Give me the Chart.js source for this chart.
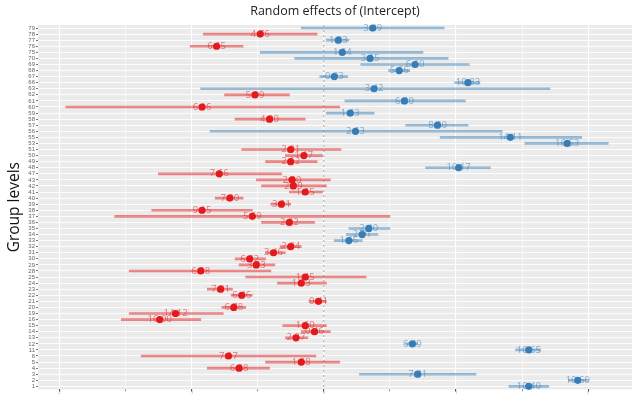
<!DOCTYPE html>
<html>
<head>
<meta charset="utf-8">
<script src="https://cdn.jsdelivr.net/npm/chart.js@4"></script>
<style>
  html, body { margin: 0; padding: 0; background: #fff; }
  #wrap { width: 636px; height: 394px; }
</style>
</head>
<body>
<div id="wrap"><canvas id="forest"></canvas></div>
<script>
// group levels, top to bottom
const groups = ['79','78','77','76','75','70','69','68','67','66','63','62','61','60','59','58','57',
  '56','55','53','51','50','49','48','47','43','42','41','40','39','38','37','36','35','34','33','32','31','30',
  '29','28','25','24','23','22','21','20','19','16','15','14','13','12','11','6','5','4','3','2','1'];

const estimates = [0.37,-0.48,0.11,-0.81,0.14,0.35,0.69,0.57,0.08,1.09,0.38,-0.52,0.61,-0.92,0.20,-0.41,0.86,
  0.24,1.41,1.84,-0.25,-0.15,-0.25,1.02,-0.79,-0.24,-0.23,-0.14,-0.71,-0.32,-0.92,-0.54,-0.26,0.34,0.29,0.19,-0.25,-0.38,-0.56,
  -0.51,-0.93,-0.14,-0.17,-0.78,-0.62,-0.04,-0.68,-1.12,-1.24,-0.14,-0.07,-0.21,0.67,1.55,-0.72,-0.17,-0.64,0.71,1.92,1.55];

const lower = [-0.17,-0.91,0.02,-1.01,-0.48,-0.22,0.28,0.49,-0.03,0.99,-0.93,-0.75,0.16,-1.95,0.02,-0.67,0.62,
  -0.86,0.88,1.52,-0.62,-0.29,-0.44,0.77,-1.25,-0.51,-0.47,-0.26,-0.82,-0.40,-1.30,-1.58,-0.47,0.19,0.17,0.08,-0.33,-0.44,-0.67,
  -0.64,-1.47,-0.59,-0.35,-0.88,-0.70,-0.11,-0.77,-1.47,-1.53,-0.31,-0.17,-0.29,0.62,1.45,-1.38,-0.44,-0.88,0.27,1.85,1.40];

const upper = [0.91,-0.05,0.19,-0.61,0.75,0.94,1.10,0.65,0.18,1.18,1.71,-0.26,1.07,0.12,0.38,-0.14,1.09,
  1.35,1.95,2.15,0.13,-0.01,-0.05,1.26,-0.32,0.05,0.02,-0.01,-0.61,-0.25,-0.54,0.50,-0.07,0.50,0.41,0.29,-0.17,-0.29,-0.44,
  -0.37,-0.40,0.32,0.02,-0.69,-0.54,0.02,-0.59,-0.76,-0.93,0.02,0.05,-0.12,0.71,1.64,-0.06,0.12,-0.41,1.15,2.00,1.70];

const valueLabels = ['3.49','4.76','1.83','6.65','1.64','3.65','6.60','5.66','0.83','10.83','3.42','5.09','6.40','6.16','1.63','4.00','8.60',
  '2.63','14.11','16.53','2.01','1.17','2.62','10.17','7.66','2.00','2.09','1.65','7.00','3.11','9.15','5.69','2.62','2.40','2.01','1.66','2.04','3.46','6.62',
  '3.93','6.08','1.45','1.63','7.81','6.46','0.41','6.78','14.12','16.00','1.60','0.46','2.87','6.49','10.65','7.17','1.58','6.88','7.41','10.60','10.40'];

const xTicks = [-2, -1.5, -1, -0.5, 0, 0.5, 1, 1.5, 2];

const RED = '#e41a1c', BLUE = '#377eb8';
const isPos = estimates.map(v => v > 0);

// grey panel behind the plot, dashed zero line
const panelPlugin = {
  id: 'panel',
  beforeDraw(chart) {
    const { ctx, chartArea: a } = chart;
    ctx.save();
    ctx.fillStyle = '#ebebeb';
    ctx.fillRect(a.left, a.top, a.right - a.left, a.bottom - a.top);
    ctx.restore();
  },
  beforeDatasetsDraw(chart) {
    const { ctx, chartArea: a, scales } = chart;
    const x0 = scales.x.getPixelForValue(0);
    ctx.save();
    ctx.strokeStyle = '#b3b3b3';
    ctx.lineWidth = 1.2;
    ctx.setLineDash([2, 3]);
    ctx.beginPath();
    ctx.moveTo(x0, a.top);
    ctx.lineTo(x0, a.bottom);
    ctx.stroke();
    ctx.restore();
  }
};

// value text written over each point
const labelPlugin = {
  id: 'valueText',
  afterDatasetsDraw(chart) {
    const meta = chart.getDatasetMeta(1);
    const ctx = chart.ctx;
    ctx.save();
    ctx.font = '9.5px "Open Sans"';
    ctx.textAlign = 'center';
    ctx.textBaseline = 'middle';
    meta.data.forEach((pt, i) => {
      ctx.fillStyle = isPos[i] ? 'rgba(55,126,184,0.6)' : 'rgba(228,26,28,0.6)';
      ctx.fillText(valueLabels[i], pt.x, pt.y);
    });
    ctx.restore();
  }
};

new Chart(document.getElementById('forest'), {
  data: {
    labels: groups,
    datasets: [
      {
        type: 'bar',
        data: lower.map((lo, i) => [lo, upper[i]]),
        backgroundColor: isPos.map(p => p ? 'rgba(55,126,184,0.5)' : 'rgba(228,26,28,0.5)'),
        barThickness: 2,
        borderSkipped: false
      },
      {
        type: 'line',
        data: estimates,
        showLine: false,
        pointRadius: 3.6,
        pointBorderWidth: 0,
        pointBackgroundColor: isPos.map(p => p ? BLUE : RED)
      }
    ]
  },
  options: {
    indexAxis: 'y',
    responsive: true,
    maintainAspectRatio: false,
    animation: false,
    layout: { padding: { top: 0, right: 0, bottom: 0, left: 0 } },
    plugins: {
      legend: { display: false },
      tooltip: { enabled: false },
      title: {
        display: true,
        text: 'Random effects of (Intercept)',
        fullSize: false,
        color: '#222',
        font: { family: 'Open Sans', size: 12.5, weight: 'normal' },
        padding: { top: 4, bottom: 6 }
      }
    },
    scales: {
      x: {
        type: 'linear',
        min: -2.16,
        max: 2.33,
        afterBuildTicks: s => { s.ticks = xTicks.map(v => ({ value: v })); },
        afterFit: s => { s.height = 4; },
        grid: {
          color: '#ffffff',
          lineWidth: c => Number.isInteger(c.tick.value) ? 1.1 : 0.6,
          tickColor: '#555',
          tickLength: 2
        },
        border: { display: false },
        ticks: {
          color: '#777',
          font: { size: 3 },
          padding: 0,
          callback: v => Number.isInteger(v) ? String(v) : ''
        }
      },
      y: {
        type: 'category',
        afterFit: s => { s.width = 38; },
        grid: {
          offset: false,
          color: '#ffffff',
          lineWidth: 0.9,
          tickColor: '#666',
          tickLength: 2
        },
        border: { display: false },
        ticks: {
          autoSkip: false,
          color: '#666',
          font: { family: 'Liberation Sans', size: 6 },
          padding: 1
        },
        title: {
          display: true,
          text: 'Group levels',
          color: '#111',
          font: { family: 'Open Sans', size: 15.5 },
          padding: { top: 5, bottom: 0 }
        }
      }
    }
  },
  plugins: [panelPlugin, labelPlugin]
});
</script>
</body>
</html>
